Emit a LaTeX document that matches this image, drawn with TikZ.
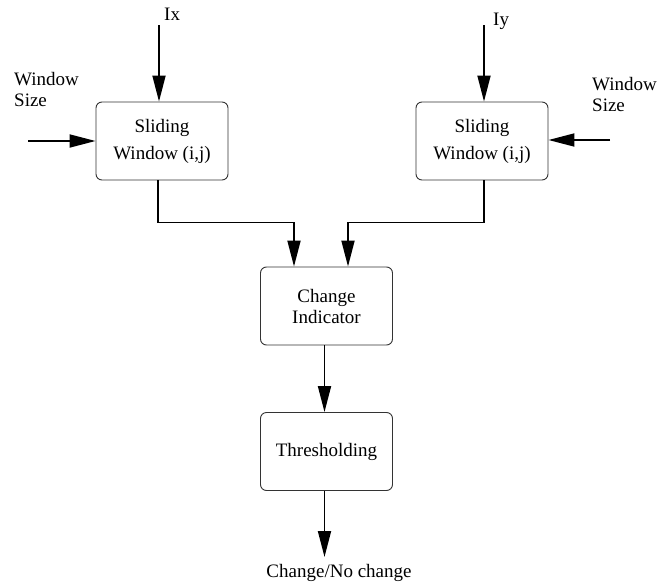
\documentclass[tikz,border=0pt]{standalone}
\usepackage{fontspec}
\setmainfont{Liberation Serif}
\usetikzlibrary{arrows.meta}
\begin{document}
\begin{tikzpicture}[x=1pt,y=-1pt,
  blk/.style={draw=black!80,line width=0.9pt,rounded corners=6pt,minimum width=132pt,minimum height=78pt,inner sep=0pt,align=center},
  arr/.style={line width=1.8pt,-{Triangle[length=26pt,width=13pt]}},
  lbl/.style={font=\fontsize{19}{21}\selectfont,inner sep=0pt,align=left}]
\useasboundingbox (0,0) rectangle (670,584);
% boxes
\node[blk,font=\fontsize{19}{27}\selectfont] (lbox) at (162,141) {Sliding\\Window (i,j)};
\node[blk,font=\fontsize{19}{27}\selectfont] (rbox) at (482,141) {Sliding\\Window (i,j)};
\node[blk,font=\fontsize{19}{21}\selectfont] (ci) at (326.5,306) {Change\\Indicator};
\node[blk,font=\fontsize{19}{21}\selectfont] (th) at (326.5,451.5) {Thresholding};
% labels
\node[lbl,anchor=base west] (ix) at (164,20) {Ix};
\node[lbl,anchor=base west] (iy) at (493,25) {Iy};
\node[lbl,anchor=base west] (wsl) at (14,106) {Window\\Size};
\node[lbl,anchor=base west] (wsr) at (592,111) {Window\\Size};
\node[lbl,anchor=base] (out) at (339,577) {Change/No change};
% free ends
\coordinate (ixs) at (159,25);
\coordinate (iys) at (484,25);
\coordinate (wls) at (28,141);
\coordinate (wrs) at (610,140);
\coordinate (oute) at (324.5,557);
% connectors
\draw[arr] (ixs) -- (ixs |- lbox.north);
\draw[arr] (iys) -- (iys |- rbox.north);
\draw[arr] (wls) -- (wls -| lbox.west);
\draw[arr] (wrs) -- (wrs -| rbox.east);
\draw[arr] ([xshift=-4pt]lbox.south) |- ([xshift=-32.5pt,yshift=44pt]ci.north) -- ([xshift=-32.5pt]ci.north);
\draw[arr] ([xshift=2pt]rbox.south) |- ([xshift=21.5pt,yshift=44pt]ci.north) -- ([xshift=21.5pt]ci.north);
\draw[arr] ([xshift=-2pt]ci.south) -- ([xshift=-2pt]th.north);
\draw[arr] ([xshift=-2pt]th.south) -- (oute);
\end{tikzpicture}
\end{document}
